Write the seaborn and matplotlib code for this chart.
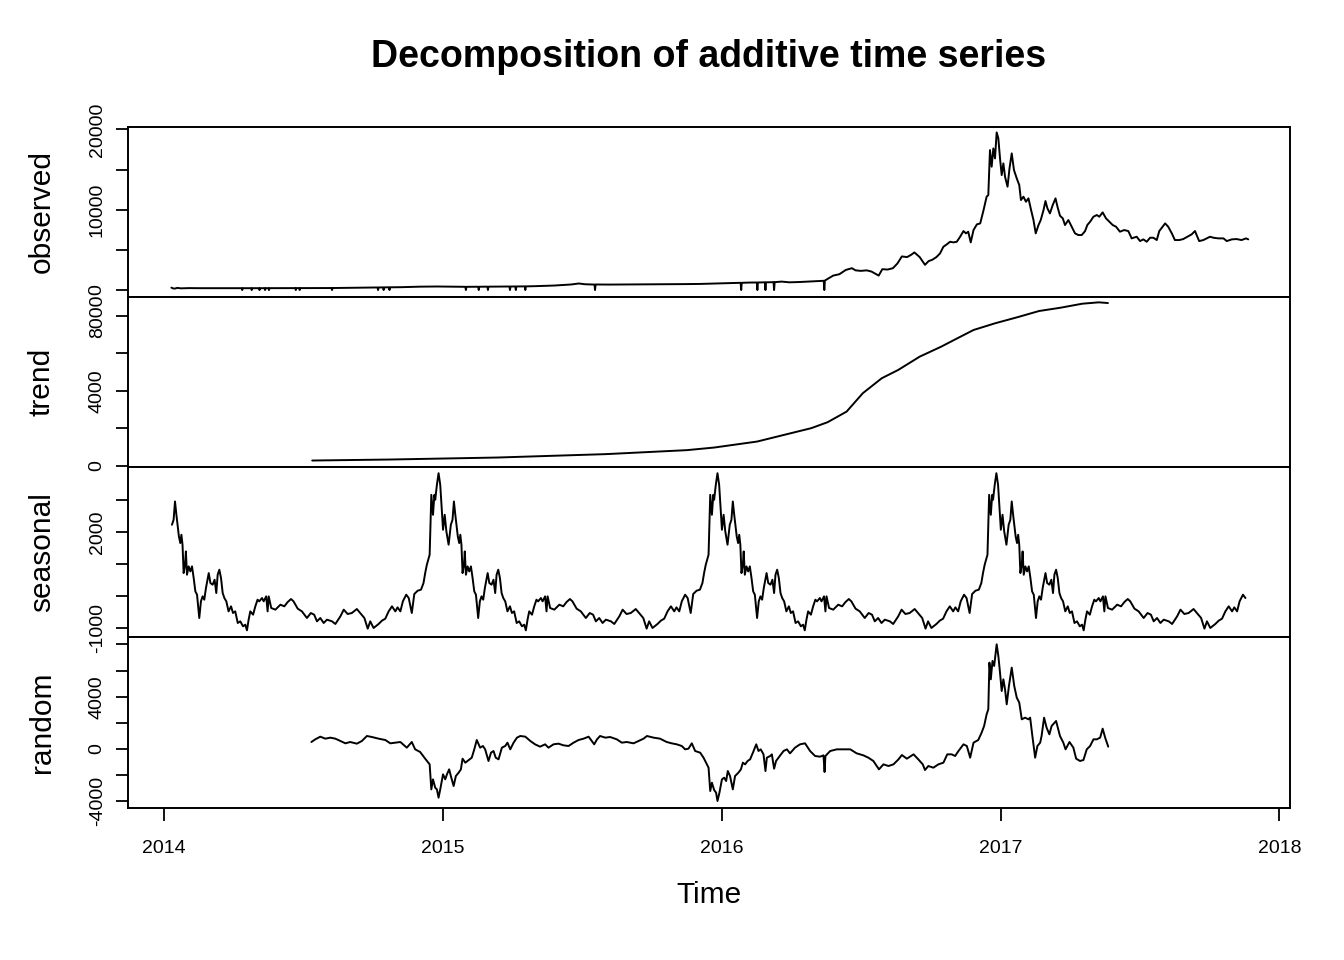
import numpy as np
import pandas as pd
import matplotlib
matplotlib.use("Agg")  # no display
import matplotlib.pyplot as plt
import seaborn as sns

# ---------------------------------------------------------------------------
# Data (time in years, values in series units)
# ---------------------------------------------------------------------------
obs_time = [
    2014.027, 2014.033, 2014.040, 2014.048, 2014.061, 2014.090, 2014.130, 2014.200,
    2014.279, 2014.281, 2014.283, 2014.313, 2014.315, 2014.317, 2014.341, 2014.343, 2014.345,
    2014.361, 2014.363, 2014.365, 2014.375, 2014.377, 2014.379, 2014.420,
    2014.471, 2014.473, 2014.475, 2014.485, 2014.487, 2014.489, 2014.550,
    2014.601, 2014.603, 2014.605, 2014.700, 2014.766, 2014.768, 2014.770,
    2014.786, 2014.788, 2014.790, 2014.807, 2014.809, 2014.811, 2014.850, 2014.920, 2014.980,
    2015.030, 2015.081, 2015.083, 2015.085, 2015.127, 2015.129, 2015.131,
    2015.160, 2015.162, 2015.164, 2015.200, 2015.239, 2015.241, 2015.243,
    2015.260, 2015.262, 2015.264, 2015.294, 2015.296, 2015.298, 2015.330, 2015.400,
    2015.460, 2015.488, 2015.510, 2015.544, 2015.546, 2015.548, 2015.600, 2015.700,
    2015.800, 2015.872, 2015.923, 2015.980, 2016.038, 2016.068, 2016.070, 2016.072,
    2016.100, 2016.126, 2016.128, 2016.130, 2016.155, 2016.157, 2016.159,
    2016.186, 2016.188, 2016.190, 2016.215, 2016.243, 2016.280, 2016.307, 2016.340,
    2016.358, 2016.366, 2016.368, 2016.370, 2016.384, 2016.400, 2016.422, 2016.445,
    2016.467, 2016.480, 2016.499, 2016.520, 2016.537, 2016.563, 2016.576, 2016.595,
    2016.614, 2016.630, 2016.646, 2016.665, 2016.680, 2016.691, 2016.710, 2016.729,
    2016.742, 2016.755, 2016.770,
    2016.783, 2016.795, 2016.807, 2016.819, 2016.831, 2016.843, 2016.855, 2016.867,
    2016.876, 2016.884, 2016.893, 2016.903, 2016.915, 2016.927, 2016.939, 2016.950,
    2016.956, 2016.962, 2016.968, 2016.974, 2016.980, 2016.986, 2016.992, 2016.998,
    2017.004, 2017.010, 2017.016, 2017.025, 2017.032, 2017.040, 2017.048, 2017.058,
    2017.067, 2017.073, 2017.082, 2017.091, 2017.100, 2017.108, 2017.118, 2017.126,
    2017.136, 2017.144, 2017.154, 2017.161, 2017.168, 2017.177, 2017.187, 2017.197,
    2017.204, 2017.213, 2017.223, 2017.231, 2017.243, 2017.255, 2017.267, 2017.279,
    2017.291, 2017.303, 2017.311, 2017.321, 2017.333, 2017.345, 2017.354, 2017.366,
    2017.378, 2017.390, 2017.402, 2017.414, 2017.428, 2017.443, 2017.458, 2017.470,
    2017.488, 2017.500, 2017.512, 2017.524, 2017.536, 2017.548, 2017.560, 2017.569,
    2017.581, 2017.590, 2017.601, 2017.614, 2017.625, 2017.641, 2017.655, 2017.670,
    2017.685, 2017.697, 2017.703, 2017.712, 2017.727, 2017.739, 2017.751, 2017.763,
    2017.781, 2017.799, 2017.811, 2017.829, 2017.846, 2017.864, 2017.880, 2017.888,
]
obs_value = [
    300, 200, 180, 270, 210, 240, 230, 235,
    230, 0, 230, 230, 0, 230, 232, 0, 232,
    232, 0, 232, 233, 0, 233, 240,
    240, 0, 240, 240, 0, 240, 240,
    250, 0, 250, 290, 320, 0, 320,
    330, 0, 330, 340, 0, 340, 355, 420, 440,
    420, 400, 0, 400, 410, 0, 410,
    420, 0, 420, 430, 440, 0, 440,
    445, 0, 445, 455, 0, 455, 480, 560,
    690, 815, 720, 680, 0, 690, 680, 700,
    720, 740, 760, 820, 880, 900, 0, 900,
    930, 940, 0, 940, 960, 0, 960,
    980, 0, 980, 1050, 960, 1000, 1050, 1100,
    1131, 1150, 0, 1180, 1465, 1800, 1967, 2500,
    2719, 2450, 2385, 2450, 2301, 1800, 2593, 2550,
    2719, 3300, 4181, 4100, 4400, 4682, 4100, 3137,
    3600, 3763, 4100,
    4560, 5390, 5680, 6010, 5930, 6010, 6635, 7340,
    7050, 7260, 5930, 7465, 8170, 8295, 9955, 11615,
    11820, 17420, 15350, 17630, 16385, 19620, 18875, 16385,
    14310, 15765, 14105, 12860, 15140, 17010, 14935, 13895,
    13065, 11200, 11615, 10990, 11410, 10165, 8710, 7050,
    8090, 8710, 9955, 11075, 10165, 9540, 10580, 11410,
    10370, 9250, 8920, 8090, 8710, 7880, 7050, 6845,
    6845, 7340, 8090, 8500, 9125, 9335, 9125, 9665,
    8920, 8500, 8090, 7880, 7260, 7465, 7340, 6430,
    6635, 6095, 6305, 6010, 6510, 6510, 6220, 7340,
    7880, 8295, 7880, 7050, 6220, 6220, 6345, 6635,
    6925, 7340, 6845, 6095, 6220, 6430, 6635, 6510,
    6430, 6430, 6095, 6305, 6345, 6220, 6430, 6305,
]

trend_time = [
    2014.532, 2014.808, 2015.195, 2015.584, 2015.875, 2015.973, 2016.127, 2016.224,
    2016.321, 2016.380, 2016.448, 2016.506, 2016.574, 2016.633, 2016.710, 2016.787,
    2016.845, 2016.903, 2016.980, 2017.059, 2017.138, 2017.215, 2017.293, 2017.352,
    2017.385,
]
trend_value = [
    283, 336, 443, 624, 837, 976, 1296, 1653,
    2010, 2330, 2896, 3877, 4677, 5120, 5830, 6363,
    6810, 7253, 7610, 7930, 8267, 8443, 8657, 8730,
    8693,
]

# one yearly cycle of the seasonal figure, starting at the first observation
seas_cycle_time = [
    2014.029, 2014.035, 2014.040, 2014.045, 2014.050, 2014.054, 2014.059, 2014.063,
    2014.067, 2014.071, 2014.076, 2014.079, 2014.083, 2014.089, 2014.095, 2014.101,
    2014.107, 2014.113, 2014.119, 2014.127, 2014.133, 2014.139, 2014.145, 2014.151,
    2014.161, 2014.167, 2014.175, 2014.182, 2014.188, 2014.193, 2014.199, 2014.205,
    2014.211, 2014.217, 2014.224, 2014.232, 2014.241, 2014.248, 2014.256, 2014.265,
    2014.274, 2014.284, 2014.292, 2014.298, 2014.304, 2014.310, 2014.320, 2014.328,
    2014.336, 2014.342, 2014.352, 2014.358, 2014.367, 2014.372, 2014.376, 2014.385,
    2014.400, 2014.418, 2014.432, 2014.444, 2014.456, 2014.465, 2014.480, 2014.495,
    2014.513, 2014.527, 2014.539, 2014.549, 2014.561, 2014.573, 2014.585, 2014.603,
    2014.615, 2014.633, 2014.645, 2014.659, 2014.674, 2014.692, 2014.704, 2014.719,
    2014.731, 2014.740, 2014.752, 2014.770, 2014.782, 2014.794, 2014.806, 2014.818,
    2014.830, 2014.838, 2014.848, 2014.857, 2014.869, 2014.878, 2014.889, 2014.898,
    2014.910, 2014.922, 2014.931, 2014.937, 2014.943, 2014.953, 2014.959, 2014.965,
    2014.970, 2014.973, 2014.979, 2014.985, 2014.991, 2015.001, 2015.007, 2015.013,
    2015.021,
]
seas_cycle_value = [
    2219, 2375, 2948, 2531, 2167, 1854, 1646, 1906,
    1594, 708, 969, 1385, 656, 917, 760, 917,
    552, 135, 31, -698, -177, -20, -125, 240,
    708, 396, 344, 500, 83, 656, 813, 552,
    83, -73, -177, -490, -333, -542, -490, -854,
    -802, -958, -906, -1083, -750, -490, -594, -333,
    -125, -177, -73, -177, -20, -490, -20, -385,
    -437, -281, -333, -198, -104, -177, -406, -490,
    -698, -542, -594, -802, -698, -854, -750, -802,
    -885, -646, -437, -573, -542, -417, -542, -698,
    -1031, -802, -1010, -885, -781, -719, -490, -333,
    -490, -365, -490, -177, 31, -73, -542, 52,
    156, 188, 396, 708, 969, 1281, 3156, 2531,
    3156, 3000, 3469, 3833, 3469, 2063, 2531, 2011,
    1594,
]

rand_time = [
    2014.529, 2014.543, 2014.561, 2014.579, 2014.597, 2014.615, 2014.633, 2014.651,
    2014.668, 2014.692, 2014.710, 2014.728, 2014.746, 2014.770, 2014.794, 2014.812,
    2014.830, 2014.848, 2014.871, 2014.889, 2014.901, 2014.919, 2014.937, 2014.953,
    2014.959, 2014.965, 2014.973, 2014.979, 2014.985, 2014.991, 2015.001, 2015.009,
    2015.015, 2015.023, 2015.029, 2015.039, 2015.047, 2015.057, 2015.065, 2015.071,
    2015.081, 2015.093, 2015.104, 2015.113, 2015.122, 2015.134, 2015.144, 2015.152,
    2015.164, 2015.173, 2015.182, 2015.190, 2015.200, 2015.212, 2015.224, 2015.232,
    2015.242, 2015.254, 2015.266, 2015.278, 2015.296, 2015.314, 2015.331, 2015.349,
    2015.367, 2015.379, 2015.397, 2015.415, 2015.433, 2015.451, 2015.469, 2015.487,
    2015.505, 2015.523, 2015.543, 2015.553, 2015.564, 2015.583, 2015.600, 2015.624,
    2015.642, 2015.660, 2015.684, 2015.702, 2015.720, 2015.732, 2015.756, 2015.779,
    2015.803, 2015.821, 2015.839, 2015.857, 2015.869, 2015.881, 2015.893, 2015.905,
    2015.923, 2015.935, 2015.953, 2015.959, 2015.965, 2015.973, 2015.980, 2015.985,
    2015.992, 2016.001, 2016.009, 2016.016, 2016.022, 2016.030, 2016.040, 2016.048,
    2016.060, 2016.069, 2016.076, 2016.084, 2016.093, 2016.102, 2016.112, 2016.124,
    2016.132, 2016.140, 2016.150, 2016.157, 2016.162, 2016.174, 2016.180, 2016.188,
    2016.195, 2016.210, 2016.222, 2016.234, 2016.245, 2016.263, 2016.281, 2016.299,
    2016.317, 2016.335, 2016.353, 2016.365, 2016.369, 2016.372, 2016.389, 2016.413,
    2016.437, 2016.461, 2016.484, 2016.508, 2016.526, 2016.544, 2016.564, 2016.580,
    2016.598, 2016.616, 2016.634, 2016.646, 2016.664, 2016.688, 2016.705, 2016.721,
    2016.729, 2016.741, 2016.759, 2016.777, 2016.795, 2016.809, 2016.825, 2016.837,
    2016.849, 2016.867, 2016.879, 2016.891, 2016.903, 2016.920, 2016.932, 2016.941,
    2016.950, 2016.956, 2016.960, 2016.965, 2016.971, 2016.977, 2016.981, 2016.986,
    2016.992, 2016.998, 2017.004, 2017.010, 2017.016, 2017.022, 2017.030, 2017.040,
    2017.049, 2017.058, 2017.067, 2017.076, 2017.088, 2017.100, 2017.106, 2017.114,
    2017.124, 2017.132, 2017.142, 2017.147, 2017.156, 2017.165, 2017.175, 2017.183,
    2017.199, 2017.213, 2017.225, 2017.233, 2017.247, 2017.261, 2017.271, 2017.285,
    2017.297, 2017.309, 2017.321, 2017.333, 2017.345, 2017.357, 2017.366, 2017.375,
    2017.386,
]
rand_value = [
    536, 740, 944, 791, 868, 791, 612, 434,
    536, 409, 612, 995, 918, 791, 689, 434,
    485, 536, 103, 536, -25, -229, -739, -1173,
    -3085, -2320, -2958, -3085, -3723, -3085, -1938, -2320,
    -1938, -1555, -2065, -2830, -2065, -1810, -1555, -739,
    -1045, -841, -663, -25, 689, 103, 230, -25,
    -917, -280, -153, -663, -790, 103, 230, 485,
    -25, 485, 868, 995, 944, 612, 358, 179,
    358, 103, 358, 409, 281, 230, 485, 689,
    791, 944, 358, 740, 995, 868, 918, 740,
    485, 536, 434, 612, 791, 995, 868, 791,
    536, 434, 358, 230, -25, 26, 434, -153,
    -280, -663, -1428, -3213, -2575, -3136, -3340, -3978,
    -3340, -2320, -2193, -2448, -1683, -2065, -3085, -2065,
    -1810, -1555, -1045, -1173, -917, -790, -280, 358,
    -153, -25, -408, -1683, -663, -535, -408, -1504,
    -917, -484, -153, -25, -331, 103, 358, 434,
    -153, -535, -586, -484, -1759, -535, -153, -25,
    -25, -25, -331, -484, -663, -917, -1555, -1173,
    -1300, -1173, -790, -459, -739, -408, -790, -1173,
    -1606, -1300, -1428, -1173, -1045, -408, -408, -535,
    -153, 358, 230, -663, 485, 689, 1250, 1760,
    2653, 3035, 6605, 5330, 6733, 6350, 7115, 8007,
    7115, 5840, 4438, 5330, 4565, 3418, 4820, 6223,
    4820, 3928, 3545, 2270, 2398, 2270, 2398, 995,
    -663, 230, 485, 995, 2398, 1633, 1123, 1760,
    2143, 995, 485, -25, 536, 103, -739, -917,
    -841, -25, 230, 740, 740, 868, 1556, 868,
    179,
]

years = [2014, 2015, 2016, 2017, 2018]
year_labels = ["2014", "2015", "2016", "2017", "2018"]

panel_names = ["observed", "trend", "seasonal", "random"]
panel_ticks = [
    [0, 5000, 10000, 15000, 20000],
    [0, 2000, 4000, 6000, 8000],
    [-1000, 0, 1000, 2000, 3000],
    [-4000, -2000, 0, 2000, 4000, 6000, 8000],
]
panel_tick_labels = [
    ["0", "", "10000", "", "20000"],
    ["0", "", "4000", "", "8000"],
    ["-1000", "", "", "2000", ""],
    ["-4000", "", "0", "", "4000", "", ""],
]
panel_ylim = [(-846, 20350), (-70, 9024), (-1306, 4022), (-4491, 8531)]

# seasonal figure repeats every year over the span of the observations
seas_time = np.concatenate([np.array(seas_cycle_time) + k for k in range(4)])
seas_value = np.tile(seas_cycle_value, 4)
keep = seas_time <= obs_time[-1]
seas_time, seas_value = seas_time[keep], seas_value[keep]

series = [
    pd.DataFrame({"time": obs_time, "value": obs_value}),
    pd.DataFrame({"time": trend_time, "value": trend_value}),
    pd.DataFrame({"time": seas_time, "value": seas_value}),
    pd.DataFrame({"time": rand_time, "value": rand_value}),
]

# ---------------------------------------------------------------------------
# Plot
# ---------------------------------------------------------------------------
sns.set_style("ticks")
plt.rcParams["font.family"] = ["Liberation Sans", "DejaVu Sans"]
plt.rcParams["axes.linewidth"] = 1.4
for key in ["text.color", "axes.labelcolor", "xtick.color", "ytick.color",
            "axes.edgecolor"]:
    plt.rcParams[key] = "black"

fig, axes = plt.subplots(4, 1, figsize=(13.44, 9.6), dpi=100, sharex=True)
fig.subplots_adjust(left=0.0952, right=0.9598, top=0.8682, bottom=0.1586, hspace=0)

for i, ax in enumerate(axes):
    sns.lineplot(data=series[i], x="time", y="value", ax=ax, color="black",
                 linewidth=1.4, estimator=None, sort=False)
    ax.set_xlim(2013.8713, 2018.0376)
    ax.set_ylim(*panel_ylim[i])
    ax.set_yticks(panel_ticks[i], labels=panel_tick_labels[i])
    ax.tick_params(axis="y", direction="out", length=9, width=1.3,
                   labelsize=14, pad=7, colors="black")
    for lab in ax.get_yticklabels():
        lab.set_rotation(90)
        lab.set_verticalalignment("center")
    ax.set_ylabel(panel_names[i], fontsize=21.5, color="black")
    ax.yaxis.set_label_coords(-0.062, 0.5)
    for side in ["top", "right", "bottom", "left"]:
        ax.spines[side].set_visible(True)
        ax.spines[side].set_linewidth(1.4)
        ax.spines[side].set_color("black")
    if i < 3:
        ax.tick_params(axis="x", bottom=False, labelbottom=False)
    ax.set_xlabel("")

bottom_ax = axes[-1]
bottom_ax.set_xticks(years, labels=year_labels)
bottom_ax.tick_params(axis="x", direction="out", length=9, width=1.3,
                      labelsize=14, pad=14, colors="black")
bottom_ax.set_xlabel("Time", fontsize=21.5, color="black")
bottom_ax.xaxis.set_label_coords(0.5, -0.43)

fig.text(0.5275, 1 - 57 / 960, "Decomposition of additive time series",
         ha="center", va="center", fontsize=27, fontweight="bold", color="black")

fig.savefig("out.png", dpi=100)
